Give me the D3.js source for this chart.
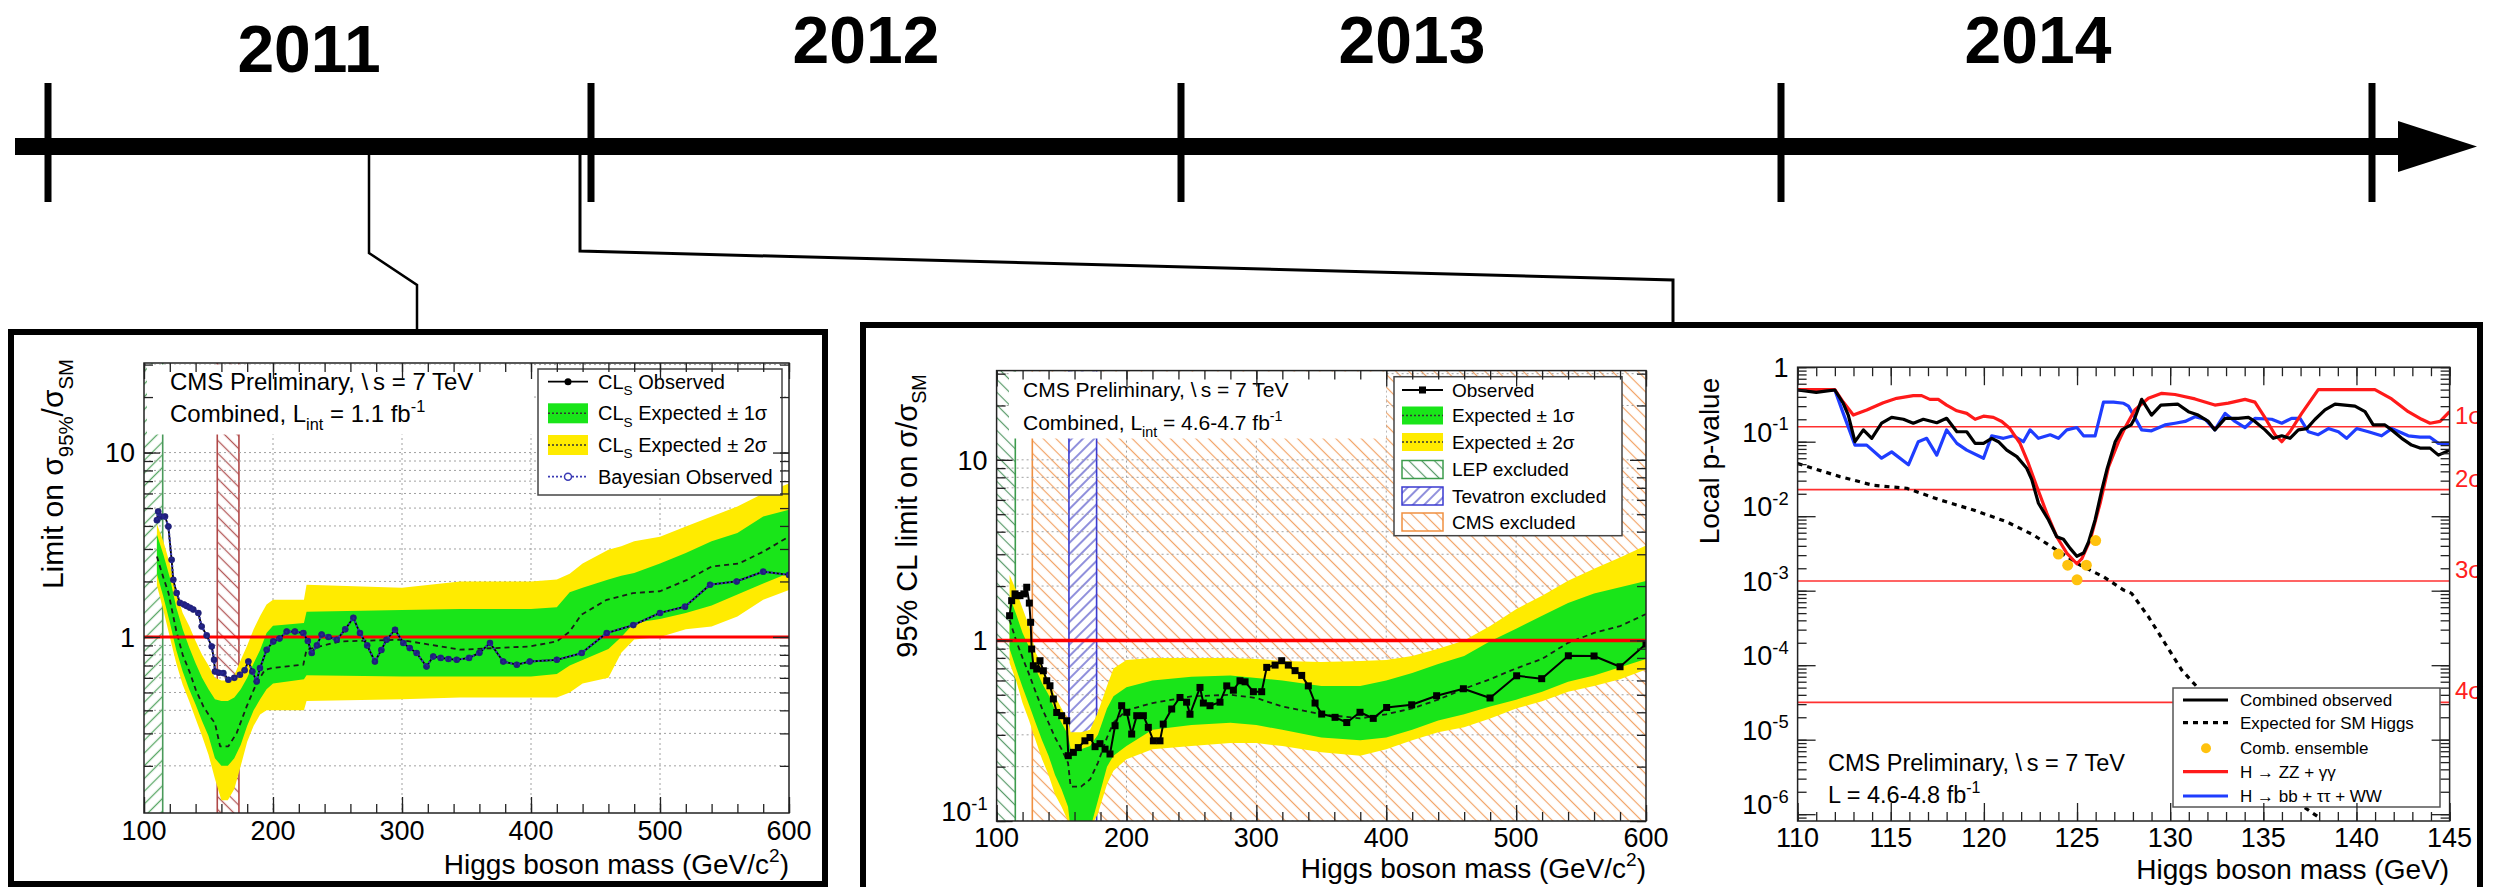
<!DOCTYPE html>
<html>
<head>
<meta charset="utf-8">
<script src="https://cdn.jsdelivr.net/npm/d3@7"></script>
<style>
  body { margin: 0; background: #fff; }
  svg { display: block; font-family: "Liberation Sans", Arial, Helvetica, sans-serif; }
</style>
</head>
<body>
<svg id="fig" width="2493" height="887"></svg>
<script>
// ---------------- data ----------------
const yearBounds = [2011, 2012, 2013, 2014, 2015];
const years = ["2011", "2012", "2013", "2014"];

// panel 1 : 2011 limit, 1.1 fb-1
const p1Observed = [[110,4.3],[111,4.79],[113,4.5],[116.3,4.5],[118.9,3.97],[121.4,2.62],[122.7,2.04],[125.3,1.73],[127.9,1.53],[131,1.5],[133.1,1.47],[135.7,1.44],[138.2,1.41],[142.1,1.35],[144.7,1.14],[148.6,1.02],[152.5,0.888],[154.3,0.752],[155,0.65],[158,0.64],[161.5,0.637],[165.4,0.586],[170,0.6],[174.4,0.624],[178,0.66],[180.9,0.736],[184,0.65],[187.3,0.574],[189.9,0.678],[195.1,0.853],[200.2,0.946],[205,0.98],[210.6,1.07],[217,1.07],[223.5,1.05],[227,0.95],[230,0.818],[234,0.9],[237.7,1.03],[243,1.0],[249.4,0.966],[256,1.1],[262.3,1.27],[267.4,1.05],[273,0.9],[279,0.736],[284,0.85],[288,0.966],[294.6,1.094],[301,0.927],[306,0.87],[311.3,0.818],[319,0.692],[324.2,0.784],[330,0.77],[336,0.76],[342.4,0.752],[352,0.77],[360,0.82],[368.2,0.927],[378.5,0.736],[389,0.707],[399,0.736],[420,0.752],[439.3,0.818],[458.7,1.05],[479.3,1.16],[500,1.35],[519.4,1.46],[538.8,1.92],[559.4,2.0],[580,2.26],[600,2.17]];
const p1Expected = [[110,2.73],[115,2.1],[119,1.73],[125,1.08],[130,0.8],[135.7,0.637],[140,0.52],[146,0.42],[150,0.38],[155,0.341],[159,0.255],[165.4,0.255],[171.8,0.301],[179.6,0.42],[187.3,0.563],[193.8,0.664],[200,0.68],[223.5,0.707],[226,0.853],[252,0.946],[298.5,0.966],[345,0.853],[399,0.888],[420,0.946],[430,1.07],[439,1.32],[458.7,1.59],[479,1.73],[500,1.77],[521,2.04],[540,2.41],[561,2.5],[580,2.9],[600,3.5]];
const p1BandMass = [110,115,120,125,130,135,140,145,150,155,160,165,170,175,180,185,190,195,200,224,226,300,345,400,420,430,440,460,470,480,500,520,540,560,580,600];
const p1Minus2 = [1.9,1.4,1.0,0.72,0.55,0.45,0.36,0.29,0.23,0.17,0.13,0.13,0.15,0.2,0.27,0.33,0.38,0.4,0.4,0.4,0.45,0.46,0.47,0.47,0.47,0.5,0.56,0.6,0.82,0.97,1.0,1.1,1.14,1.29,1.59,1.8];
const p1Minus1 = [2.2,1.65,1.2,0.85,0.65,0.52,0.43,0.35,0.29,0.22,0.2,0.2,0.22,0.26,0.33,0.4,0.46,0.52,0.56,0.59,0.62,0.61,0.61,0.61,0.63,0.7,0.75,0.86,1.0,1.19,1.25,1.35,1.48,1.7,1.95,2.22];
const p1Plus1 = [3.6,2.8,2.1,1.45,1.1,0.88,0.72,0.6,0.52,0.46,0.45,0.45,0.47,0.52,0.6,0.72,0.85,1.05,1.15,1.19,1.37,1.4,1.42,1.42,1.45,1.75,1.85,2.05,2.15,2.22,2.5,2.85,3.3,3.66,4.5,4.89];
const p1Plus2 = [4.1,3.3,2.5,1.75,1.35,1.15,0.95,0.8,0.7,0.6,0.58,0.58,0.62,0.75,0.9,1.1,1.3,1.5,1.59,1.59,1.92,1.85,2.0,2.0,2.05,2.2,2.5,2.97,3.1,3.3,3.5,3.97,4.5,5.1,6.0,6.8];
const p1Lep = [100, 114.5];
const p1Tevatron = [156.8, 173.6];

// panel 2 : 2011 limit, 4.6-4.7 fb-1
const p2Observed = [[110,1.37],[111.6,1.66],[114.2,1.81],[116,1.77],[118,1.77],[121,1.81],[123.2,1.97],[125.2,1.61],[126.2,1.26],[127,0.896],[128.3,0.724],[130.9,0.694],[133.4,0.772],[136,0.679],[138.6,0.598],[141.1,0.561],[143.7,0.474],[146.3,0.399],[150.1,0.383],[154,0.359],[155.2,0.23],[159.1,0.24],[162.9,0.255],[168,0.278],[171.9,0.29],[175.8,0.258],[179.6,0.268],[183.5,0.25],[187.3,0.235],[191.2,0.337],[196.3,0.435],[200.2,0.4],[204,0.303],[207.9,0.383],[213,0.383],[216.8,0.33],[220.7,0.278],[225.8,0.278],[228.3,0.344],[234.8,0.417],[241.2,0.483],[246.3,0.455],[248.9,0.39],[256.6,0.549],[259.2,0.45],[264.3,0.435],[272,0.455],[277.2,0.56],[282.3,0.53],[287.4,0.598],[291.3,0.59],[297.7,0.52],[304.1,0.52],[308,0.709],[314.4,0.73],[319.5,0.772],[324.6,0.73],[329.8,0.68],[334.9,0.64],[340,0.56],[345.2,0.45],[350.3,0.391],[360.6,0.375],[369.6,0.351],[379.8,0.4],[390,0.37],[400.3,0.425],[419.6,0.44],[438.8,0.494],[459.4,0.54],[479.9,0.48],[500.4,0.637],[519.7,0.614],[540.2,0.822],[560,0.82],[580,0.715],[600,0.955]];
const p2BandMass = [110,115,120,125,130,135,140,145,150,155,157,165,172,178,185,190,200,220,250,280,300,320,350,380,400,420,440,460,480,500,520,540,560,580,600];
const p2Expected = [1.3,1.0,0.8,0.65,0.52,0.42,0.35,0.29,0.25,0.21,0.155,0.155,0.17,0.21,0.29,0.35,0.41,0.45,0.49,0.5,0.48,0.43,0.39,0.37,0.39,0.42,0.47,0.54,0.61,0.7,0.79,0.97,1.1,1.2,1.4];
const p2Minus2 = [0.75,0.6,0.45,0.36,0.28,0.22,0.18,0.14,0.12,0.1,0.09,0.09,0.09,0.11,0.16,0.19,0.22,0.25,0.26,0.27,0.27,0.26,0.24,0.23,0.25,0.28,0.31,0.33,0.37,0.42,0.46,0.52,0.56,0.61,0.69];
const p2Minus1 = [0.9,0.7,0.55,0.44,0.35,0.28,0.23,0.18,0.15,0.12,0.09,0.09,0.09,0.13,0.2,0.23,0.26,0.32,0.34,0.35,0.34,0.32,0.29,0.28,0.29,0.32,0.36,0.39,0.43,0.47,0.52,0.59,0.64,0.71,0.79];
const p2Plus1 = [1.75,1.4,1.1,0.92,0.7,0.58,0.5,0.41,0.35,0.3,0.25,0.25,0.26,0.3,0.42,0.49,0.55,0.6,0.63,0.64,0.62,0.6,0.56,0.56,0.6,0.66,0.74,0.82,0.99,1.16,1.37,1.61,1.82,1.97,2.13];
const p2Plus2 = [2.3,1.9,1.5,1.2,0.86,0.72,0.6,0.49,0.42,0.36,0.31,0.31,0.32,0.4,0.56,0.7,0.78,0.8,0.8,0.8,0.79,0.77,0.76,0.77,0.78,0.82,0.9,1.0,1.2,1.49,1.77,2.14,2.49,2.88,3.35];
const p2Lep = [100, 114.4];
const p2Tevatron = [155.7, 177];
const p2Cms = [127.5, 600];

// panel 3 : local p-value
const p3Combined = [[110,0.494],[111,0.46],[111.6,0.48],[112,0.494],[112.45,0.328],[112.72,0.228],[113.08,0.1],[113.53,0.144],[113.98,0.111],[114.51,0.177],[115.05,0.212],[115.68,0.2],[116.21,0.177],[116.75,0.2],[117.47,0.18],[118,0.206],[118.55,0.136],[119.08,0.136],[119.53,0.095],[119.98,0.095],[120.42,0.111],[120.78,0.1],[121.23,0.077],[121.77,0.063],[122.3,0.044],[122.57,0.031],[122.93,0.0149],[123.47,0.0089],[123.91,0.0053],[124.27,0.0049],[124.63,0.0037],[124.99,0.0029],[125.35,0.0032],[125.62,0.0045],[125.97,0.0089],[126.33,0.0225],[126.6,0.042],[127.05,0.1],[127.4,0.144],[127.9,0.168],[128.1,0.206],[128.47,0.37],[129,0.228],[129.5,0.31],[130.4,0.32],[130.98,0.253],[131.5,0.228],[132.05,0.187],[132.4,0.144],[132.95,0.206],[133.66,0.206],[134.2,0.212],[134.55,0.187],[135.09,0.144],[135.54,0.111],[135.99,0.12],[136.43,0.111],[136.88,0.144],[137.33,0.15],[137.78,0.2],[138.31,0.267],[138.85,0.32],[139.38,0.31],[139.92,0.3],[140.46,0.253],[140.9,0.168],[141.53,0.168],[141.89,0.144],[142.43,0.111],[142.96,0.09],[143.41,0.082],[143.95,0.082],[144.4,0.066],[145,0.077]];
const p3ZZgg = [[110,0.5],[112,0.5],[112.45,0.34],[112.99,0.228],[113.71,0.267],[114.6,0.334],[115.32,0.382],[116.21,0.415],[116.66,0.415],[117.1,0.37],[117.55,0.37],[118,0.31],[118.55,0.26],[119.08,0.24],[119.53,0.2],[119.98,0.22],[120.51,0.212],[120.96,0.187],[121.4,0.15],[121.94,0.095],[122.39,0.051],[122.84,0.025],[123.38,0.0109],[123.91,0.0053],[124.45,0.0032],[124.99,0.0023],[125.26,0.0027],[125.71,0.0048],[126.24,0.0149],[126.69,0.046],[127.23,0.1],[127.58,0.155],[128.1,0.267],[128.83,0.382],[129.55,0.446],[130.26,0.43],[131.33,0.375],[132.4,0.31],[133.12,0.33],[134.02,0.37],[134.55,0.34],[135.09,0.21],[135.63,0.124],[135.99,0.1],[136.43,0.136],[137.06,0.24],[137.95,0.5],[140.99,0.5],[141.89,0.375],[142.78,0.253],[143.5,0.2],[143.95,0.177],[144.49,0.187],[145,0.253]];
const p3BbTauWW = [[110,0.494],[112,0.494],[112.45,0.24],[113.08,0.09],[113.71,0.09],[114.51,0.06],[115.05,0.073],[115.95,0.049],[116.48,0.1],[116.93,0.111],[117.47,0.066],[118,0.144],[118.55,0.095],[119.08,0.077],[119.98,0.06],[120.42,0.12],[121.05,0.111],[121.59,0.12],[122.12,0.1],[122.48,0.144],[122.93,0.111],[123.56,0.124],[124,0.111],[124.45,0.144],[124.99,0.155],[125.35,0.12],[125.97,0.12],[126.42,0.34],[126.96,0.34],[127.5,0.328],[127.76,0.3],[128.47,0.144],[129,0.14],[129.72,0.168],[130.26,0.177],[130.8,0.187],[131.33,0.216],[131.87,0.2],[132.4,0.144],[132.95,0.24],[133.48,0.187],[134.02,0.155],[134.55,0.206],[135.45,0.2],[135.99,0.177],[136.52,0.206],[136.97,0.206],[137.42,0.136],[137.95,0.124],[138.49,0.15],[139.03,0.136],[139.47,0.111],[140.01,0.15],[140.64,0.136],[141.35,0.12],[141.89,0.15],[142.78,0.12],[143.41,0.115],[143.95,0.115],[144.4,0.095],[145,0.093]];
const p3Expected = [[110,0.051],[112.27,0.034],[114.06,0.026],[115.86,0.0237],[117.65,0.0165],[119.44,0.0121],[121.23,0.0084],[122.66,0.0056],[123.91,0.0035],[125.17,0.0022],[126.42,0.00154],[127.5,0.00102],[127.93,0.00092],[128.83,0.000448],[129.72,0.000197],[130.62,8.6e-5],[131.51,4.9e-5],[132.5,2e-5],[134,6e-6],[136,2e-6],[138,9e-7]];
const p3Ensemble = [[124.0,0.0031],[124.5,0.0022],[125.0,0.0014],[125.5,0.0022],[126.0,0.0047]];
const p3Sigma = [["1σ",0.1587],["2σ",0.02275],["3σ",0.00135],["4σ",3.17e-5]];

// ---------------- drawing ----------------
const svg = d3.select("#fig");
const defs = svg.append("defs");

// text with sub / superscripts
function rich(t, parts, fs) {
  let shift = 0;
  parts.forEach(p => {
    const s = typeof p === "string" ? { t: p } : p;
    const target = s.sub ? fs * 0.32 : s.sup ? -fs * 0.42 : 0;
    t.append("tspan").attr("dy", target - shift)
      .attr("font-size", (s.sub || s.sup) ? fs * 0.68 : fs).text(s.t);
    shift = target;
  });
  return t;
}

function hatch(id, color, angle, gap, w) {
  const p = defs.append("pattern").attr("id", id).attr("patternUnits", "userSpaceOnUse")
    .attr("width", gap).attr("height", gap).attr("patternTransform", `rotate(${angle})`);
  p.append("line").attr("x1", gap / 2).attr("x2", gap / 2).attr("y1", -1).attr("y2", gap + 1)
    .attr("stroke", color).attr("stroke-width", w);
}
hatch("h1lep", "#5aa866", 45, 9, 1.3);
hatch("h1tev", "#b45a5a", -45, 9, 1.3);
hatch("h2lep", "#5a9a6a", -45, 9, 1.2);
hatch("h2tev", "#4646c4", 45, 8, 1.2);
hatch("h2cms", "#f2a468", -45, 9, 1.2);

// ---- timeline ----
const tl = d3.scaleLinear().domain(yearBounds).range([48, 591, 1181, 1781, 2372]);
const yearLabelX = [309, 866, 1412, 2038];
const yearLabelY = [72, 63, 63, 63];
svg.append("rect").attr("x", 15).attr("y", 138).attr("width", 2390).attr("height", 17).attr("fill", "#000");
svg.append("path").attr("d", "M2398,121 L2477,146.5 L2398,172 Z").attr("fill", "#000");
svg.selectAll("rect.ytick").data(yearBounds).join("rect").attr("class", "ytick")
  .attr("x", d => tl(d) - 3.5).attr("y", 83).attr("width", 7).attr("height", 119).attr("fill", "#000");
svg.selectAll("text.year").data(years).join("text").attr("class", "year")
  .attr("x", (d, i) => yearLabelX[i]).attr("y", (d, i) => yearLabelY[i])
  .attr("text-anchor", "middle").attr("font-size", 66).attr("font-weight", "bold").text(d => d);

// connectors
svg.append("path").attr("d", "M369,155 V253 L417,285 V332").attr("fill", "none").attr("stroke", "#000").attr("stroke-width", 2.5);
svg.append("path").attr("d", "M580,155 V251 L1673,280 V325").attr("fill", "none").attr("stroke", "#000").attr("stroke-width", 3);

// ---- panel helpers ----
function panel(c) {
  const x = d3.scaleLinear().domain(c.xDomain).range([c.left, c.right]);
  const y = d3.scaleLog().domain(c.yDomain).range([c.bottom, c.top]);
  const g = svg.append("g");
  defs.append("clipPath").attr("id", c.id + "clip").append("rect")
    .attr("x", c.left).attr("y", c.top).attr("width", c.right - c.left).attr("height", c.bottom - c.top);
  const plot = g.append("g").attr("clip-path", `url(#${c.id}clip)`);
  return { x, y, g, plot, c };
}
const logTicks = y => y.ticks().filter(v => v >= y.domain()[0] * 0.9999 && v <= y.domain()[1] * 1.0001);
const isDecade = v => Math.abs(Math.log10(v) - Math.round(Math.log10(v))) < 1e-6;

function grid(p) {
  const { x, y, plot, c } = p;
  const gg = plot.append("g").attr("stroke", "#a0a0a0").attr("stroke-width", 1).attr("stroke-dasharray", "2,3");
  gg.selectAll("line.h").data(logTicks(y)).join("line").attr("class", "h")
    .attr("x1", c.left).attr("x2", c.right).attr("y1", d => y(d)).attr("y2", d => y(d));
  gg.selectAll("line.v").data(d3.range(c.xDomain[0] + c.xMajor, c.xDomain[1], c.xMajor)).join("line").attr("class", "v")
    .attr("x1", d => x(d)).attr("x2", d => x(d)).attr("y1", c.top).attr("y2", c.bottom);
}

function excluded(p, range, pat, color, edges) {
  const { x, plot, c } = p;
  plot.append("rect").attr("x", x(range[0])).attr("y", c.top)
    .attr("width", x(range[1]) - x(range[0])).attr("height", c.bottom - c.top).attr("fill", `url(#${pat})`);
  edges.forEach(e => plot.append("line").attr("x1", x(e)).attr("x2", x(e)).attr("y1", c.top).attr("y2", c.bottom)
    .attr("stroke", color).attr("stroke-width", 1.6));
}

function band(p, mass, lo, hi, color) {
  const area = d3.area().x((d, i) => p.x(mass[i])).y0((d, i) => p.y(lo[i])).y1((d, i) => p.y(hi[i]));
  p.plot.append("path").datum(mass).attr("d", area).attr("fill", color);
}

function curve(p, data, stroke, width, dash) {
  const line = d3.line().x(d => p.x(d[0])).y(d => p.y(d[1]));
  return p.plot.append("path").datum(data).attr("d", line).attr("fill", "none")
    .attr("stroke", stroke).attr("stroke-width", width).attr("stroke-dasharray", dash || null)
    .attr("stroke-linejoin", "round");
}

function frame(p, xLabels, labelBase, fs) {
  const { x, y, g, c } = p;
  const xs = d3.range(c.xDomain[0], c.xDomain[1] + 1e-6, c.xMinor);
  const xMaj = xs.filter(v => Math.abs((v - c.xDomain[0]) / c.xMajor - Math.round((v - c.xDomain[0]) / c.xMajor)) < 1e-6);
  const ys = logTicks(y);
  const yMaj = ys.filter(isDecade);
  const ax = (axis, tx, ty) => g.append("g").attr("transform", `translate(${tx},${ty})`).call(axis)
    .call(s => s.select(".domain").remove())
    .call(s => s.selectAll("line").attr("stroke", "#222").attr("stroke-width", 1.3));
  const M = c.majorLen, m = c.minorLen;
  ax(d3.axisBottom(x).tickValues(xs).tickFormat("").tickSize(-m), 0, c.bottom);
  ax(d3.axisBottom(x).tickValues(xMaj).tickFormat("").tickSize(-M), 0, c.bottom);
  ax(d3.axisTop(x).tickValues(xs).tickFormat("").tickSize(-m), 0, c.top);
  ax(d3.axisTop(x).tickValues(xMaj).tickFormat("").tickSize(-M), 0, c.top);
  ax(d3.axisLeft(y).tickValues(ys).tickFormat("").tickSize(-m), c.left, 0);
  ax(d3.axisLeft(y).tickValues(yMaj).tickFormat("").tickSize(-M), c.left, 0);
  ax(d3.axisRight(y).tickValues(ys).tickFormat("").tickSize(-m), c.right, 0);
  ax(d3.axisRight(y).tickValues(yMaj).tickFormat("").tickSize(-M), c.right, 0);
  g.append("rect").attr("x", c.left).attr("y", c.top).attr("width", c.right - c.left).attr("height", c.bottom - c.top)
    .attr("fill", "none").attr("stroke", "#222").attr("stroke-width", 1.5);
  // x labels
  g.selectAll("text.xl").data(xLabels).join("text").attr("class", "xl")
    .attr("x", d => x(d)).attr("y", labelBase).attr("text-anchor", "middle").attr("font-size", fs).text(d => d);
  // y labels
  yMaj.forEach(v => {
    const t = g.append("text").attr("x", c.left - 9).attr("y", y(v)).attr("dy", "0.36em")
      .attr("text-anchor", "end").attr("font-size", fs);
    const e = Math.round(Math.log10(v));
    if (e === 0) t.text("1");
    else if (e === 1) t.text("10");
    else rich(t, ["10", { t: String(e), sup: true }], fs);
  });
}

function textBlock(g, x, y, parts, fs, anchor) {
  const t = g.append("text").attr("x", x).attr("y", y).attr("font-size", fs).attr("text-anchor", anchor || "start");
  return rich(t, parts, fs);
}

const GREEN = "#19e519", YELLOW = "#ffeb00";
const CMS = "CMS Preliminary, \\\u2009s = 7 TeV";

// ================= panel 1 =================
const c1 = { id: "p1", left: 144, right: 789, top: 363, bottom: 813, xDomain: [100, 600], yDomain: [0.111, 30.6], xMajor: 100, xMinor: 20, majorLen: 16, minorLen: 9 };
const P1 = panel(c1);
excluded(P1, p1Lep, "h1lep", "#4a9a5a", [p1Lep[1]]);
excluded(P1, p1Tevatron, "h1tev", "#b04848", p1Tevatron);
grid(P1);
band(P1, p1BandMass, p1Minus2, p1Plus2, YELLOW);
band(P1, p1BandMass, p1Minus1, p1Plus1, GREEN);
curve(P1, p1Expected, "#1a1a1a", 1.8, "5,4");
P1.plot.append("line").attr("x1", c1.left).attr("x2", c1.right).attr("y1", P1.y(1)).attr("y2", P1.y(1)).attr("stroke", "#ff0000").attr("stroke-width", 3);
curve(P1, p1Observed, "#000", 1.8);
P1.plot.selectAll("circle.o").data(p1Observed).join("circle").attr("class", "o")
  .attr("cx", d => P1.x(d[0])).attr("cy", d => P1.y(d[1])).attr("r", 3).attr("fill", "#000");
// Bayesian observed sits on top of the CLs observed curve in the picture
curve(P1, p1Observed, "#3a3ab4", 2.2, "2,2");
P1.plot.selectAll("circle.b").data(p1Observed).join("circle").attr("class", "b")
  .attr("cx", d => P1.x(d[0])).attr("cy", d => P1.y(d[1])).attr("r", 3.3).attr("fill", "#24248e").attr("fill-opacity", 0.85);
P1.g.append("rect").attr("x", 147).attr("y", 364.5).attr("width", 385).attr("height", 70).attr("fill", "#fff");
textBlock(P1.g, 170, 390, [CMS], 24);
textBlock(P1.g, 170, 422, ["Combined, L", { t: "int", sub: true }, " = 1.1 fb", { t: "-1", sup: true }], 24);
// legend
{
  const lg = P1.g.append("g");
  lg.append("rect").attr("x", 538).attr("y", 369).attr("width", 244).attr("height", 126).attr("fill", "#fff").attr("stroke", "#444").attr("stroke-width", 1.5);
  const rows = [381.7, 413.3, 445, 476.7];
  lg.append("line").attr("x1", 548).attr("x2", 588).attr("y1", rows[0]).attr("y2", rows[0]).attr("stroke", "#000").attr("stroke-width", 1.8);
  lg.append("circle").attr("cx", 568).attr("cy", rows[0]).attr("r", 3.5).attr("fill", "#000");
  [[GREEN, rows[1]], [YELLOW, rows[2]]].forEach(([col, yy]) => {
    lg.append("rect").attr("x", 548).attr("y", yy - 10).attr("width", 40).attr("height", 20).attr("fill", col);
    lg.append("line").attr("x1", 548).attr("x2", 588).attr("y1", yy).attr("y2", yy).attr("stroke", "#333").attr("stroke-width", 1.4).attr("stroke-dasharray", "2,2");
  });
  lg.append("line").attr("x1", 548).attr("x2", 588).attr("y1", rows[3]).attr("y2", rows[3]).attr("stroke", "#3a3ab4").attr("stroke-width", 1.8).attr("stroke-dasharray", "2,2");
  lg.append("circle").attr("cx", 568).attr("cy", rows[3]).attr("r", 3.5).attr("fill", "#fff").attr("stroke", "#3a3ab4").attr("stroke-width", 1.5);
  const txt = [["CL", { t: "S", sub: true }, " Observed"], ["CL", { t: "S", sub: true }, " Expected \u00b1 1\u03c3"], ["CL", { t: "S", sub: true }, " Expected \u00b1 2\u03c3"], ["Bayesian Observed"]];
  txt.forEach((parts, i) => textBlock(lg, 598, rows[i] + 7, parts, 20));
}
frame(P1, d3.range(100, 601, 100), 840, 27);
textBlock(svg, 63, 474, ["Limit on \u03c3", { t: "95%", sub: true }, "/\u03c3", { t: "SM", sub: true }], 30, "middle").attr("transform", "rotate(-90,63,474)");
textBlock(svg, 789, 874, ["Higgs boson mass (GeV/c", { t: "2", sup: true }, ")"], 28, "end");

// ================= panel 2 =================
const c2 = { id: "p2", left: 996.6, right: 1646, top: 370.6, bottom: 821, xDomain: [100, 600], yDomain: [0.1, 31.2], xMajor: 100, xMinor: 20, majorLen: 16, minorLen: 9 };
const P2 = panel(c2);
excluded(P2, p2Cms, "h2cms", "#f09040", [p2Cms[0]]);
excluded(P2, p2Lep, "h2lep", "#3c9c4c", [p2Lep[1]]);
P2.plot.append("rect").attr("x", P2.x(p2Tevatron[0])).attr("y", c2.top).attr("width", P2.x(p2Tevatron[1]) - P2.x(p2Tevatron[0])).attr("height", c2.bottom - c2.top).attr("fill", "#fff");
excluded(P2, p2Tevatron, "h2tev", "#3a3ad0", p2Tevatron);
grid(P2);
band(P2, p2BandMass, p2Minus2, p2Plus2, YELLOW);
band(P2, p2BandMass, p2Minus1, p2Plus1, GREEN);
curve(P2, p2BandMass.map((m, i) => [m, p2Expected[i]]), "#1a1a1a", 1.8, "5,4");
P2.plot.append("line").attr("x1", c2.left).attr("x2", c2.right).attr("y1", P2.y(1)).attr("y2", P2.y(1)).attr("stroke", "#ff0000").attr("stroke-width", 3.5);
curve(P2, p2Observed, "#000", 2);
P2.plot.selectAll("rect.o").data(p2Observed).join("rect").attr("class", "o")
  .attr("x", d => P2.x(d[0]) - 3.5).attr("y", d => P2.y(d[1]) - 3.5).attr("width", 7).attr("height", 7).attr("fill", "#000");
P2.g.append("rect").attr("x", 1009).attr("y", 371.5).attr("width", 377).attr("height", 67).attr("fill", "#fff");
textBlock(P2.g, 1023, 396.5, [CMS], 21);
textBlock(P2.g, 1023, 430, ["Combined, L", { t: "int", sub: true }, " = 4.6-4.7 fb", { t: "-1", sup: true }], 21);
{
  const lg = P2.g.append("g");
  lg.append("rect").attr("x", 1394).attr("y", 376.7).attr("width", 228).attr("height", 159).attr("fill", "#fff").attr("stroke", "#444").attr("stroke-width", 1.5);
  const rows = [390, 415.5, 442, 469.5, 496, 522];
  lg.append("line").attr("x1", 1402).attr("x2", 1443).attr("y1", rows[0]).attr("y2", rows[0]).attr("stroke", "#000").attr("stroke-width", 1.8);
  lg.append("rect").attr("x", 1419).attr("y", rows[0] - 3.5).attr("width", 7).attr("height", 7).attr("fill", "#000");
  [[GREEN, rows[1]], [YELLOW, rows[2]]].forEach(([col, yy]) => {
    lg.append("rect").attr("x", 1402).attr("y", yy - 9).attr("width", 41).attr("height", 18).attr("fill", col);
    lg.append("line").attr("x1", 1402).attr("x2", 1443).attr("y1", yy).attr("y2", yy).attr("stroke", "#333").attr("stroke-width", 1.4).attr("stroke-dasharray", "2,2");
  });
  [["h2lep", "#3c9c4c", rows[3]], ["h2tev", "#3a3ad0", rows[4]], ["h2cms", "#f09040", rows[5]]].forEach(([pat, col, yy]) => {
    lg.append("rect").attr("x", 1402).attr("y", yy - 9).attr("width", 41).attr("height", 18).attr("fill", `url(#${pat})`).attr("stroke", col).attr("stroke-width", 1.5);
  });
  const txt = ["Observed", "Expected \u00b1 1\u03c3", "Expected \u00b1 2\u03c3", "LEP excluded", "Tevatron excluded", "CMS excluded"];
  txt.forEach((s, i) => textBlock(lg, 1452, rows[i] + 6.5, [s], 19));
}
frame(P2, d3.range(100, 601, 100), 847, 27);
textBlock(svg, 917, 516, ["95% CL limit on \u03c3/\u03c3", { t: "SM", sub: true }], 29, "middle").attr("transform", "rotate(-90,917,516)");
textBlock(svg, 1646, 878, ["Higgs boson mass (GeV/c", { t: "2", sup: true }, ")"], 28, "end");

// ================= panel 3 =================
const c3 = { id: "p3", left: 1797.6, right: 2449.6, top: 367.2, bottom: 821, xDomain: [110, 145], yDomain: [8.1e-7, 1], xMajor: 5, xMinor: 1, majorLen: 18, minorLen: 9 };
const P3 = panel(c3);
P3.plot.selectAll("line.sig").data(p3Sigma).join("line").attr("class", "sig")
  .attr("x1", c3.left).attr("x2", c3.right).attr("y1", d => P3.y(d[1])).attr("y2", d => P3.y(d[1]))
  .attr("stroke", "#ff3030").attr("stroke-width", 1.6);
curve(P3, p3Expected, "#000", 3.2, "5,5");
curve(P3, p3BbTauWW, "#1f3dff", 3.2);
curve(P3, p3ZZgg, "#ff1a1a", 3.2);
curve(P3, p3Combined, "#000", 3.2);
P3.plot.selectAll("circle.ens").data(p3Ensemble).join("circle").attr("class", "ens")
  .attr("cx", d => P3.x(d[0])).attr("cy", d => P3.y(d[1])).attr("r", 5.5).attr("fill", "#ffc20e");
textBlock(P3.g, 1828, 771, [CMS], 23.5);
textBlock(P3.g, 1828, 803, ["L = 4.6-4.8 fb", { t: "-1", sup: true }], 23.5);
{
  const lg = P3.g.append("g");
  lg.append("rect").attr("x", 2173).attr("y", 688).attr("width", 267).attr("height", 119).attr("fill", "#fff").attr("stroke", "#555").attr("stroke-width", 1.5);
  const rows = [700, 722.7, 748.3, 771.7, 796];
  lg.append("line").attr("x1", 2183).attr("x2", 2228).attr("y1", rows[0]).attr("y2", rows[0]).attr("stroke", "#000").attr("stroke-width", 3.2);
  lg.append("line").attr("x1", 2183).attr("x2", 2228).attr("y1", rows[1]).attr("y2", rows[1]).attr("stroke", "#000").attr("stroke-width", 3.2).attr("stroke-dasharray", "5,5");
  lg.append("circle").attr("cx", 2206).attr("cy", rows[2]).attr("r", 5).attr("fill", "#ffc20e");
  lg.append("line").attr("x1", 2183).attr("x2", 2228).attr("y1", rows[3]).attr("y2", rows[3]).attr("stroke", "#ff1a1a").attr("stroke-width", 3.2);
  lg.append("line").attr("x1", 2183).attr("x2", 2228).attr("y1", rows[4]).attr("y2", rows[4]).attr("stroke", "#1f3dff").attr("stroke-width", 3.2);
  const txt = ["Combined observed", "Expected for SM Higgs", "Comb. ensemble", "H \u2192 ZZ + \u03b3\u03b3", "H \u2192 bb + \u03c4\u03c4 + WW"];
  txt.forEach((s, i) => textBlock(lg, 2240, rows[i] + 6, [s], 17));
}
frame(P3, d3.range(110, 146, 5), 847, 27);
P3.g.selectAll("text.sl").data(p3Sigma).join("text").attr("class", "sl")
  .attr("x", 2455).attr("y", d => P3.y(d[1]) - 3).attr("font-size", 24).attr("fill", "#ff2020").text(d => d[0]);
textBlock(svg, 1719, 461, ["Local p-value"], 28, "middle").attr("transform", "rotate(-90,1719,461)");
textBlock(svg, 2449, 879, ["Higgs boson mass (GeV)"], 28, "end");

// ---- boxes ----
svg.append("rect").attr("x", 11).attr("y", 332).attr("width", 814).attr("height", 552)
  .attr("fill", "none").attr("stroke", "#000").attr("stroke-width", 6);
svg.append("rect").attr("x", 863).attr("y", 325).attr("width", 1617).attr("height", 600)
  .attr("fill", "none").attr("stroke", "#000").attr("stroke-width", 6);
</script>
</body>
</html>
